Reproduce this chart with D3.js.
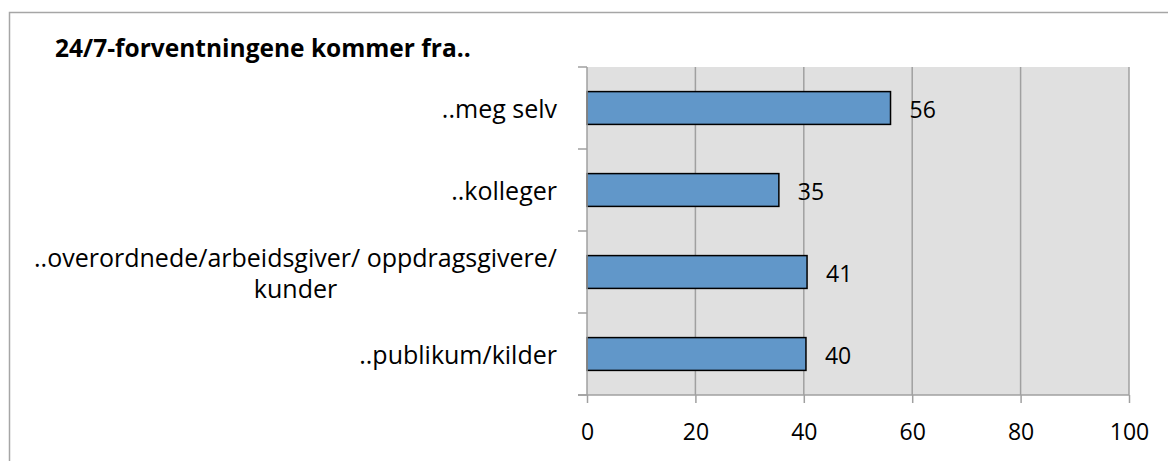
<!DOCTYPE html>
<html>
<head>
<meta charset="utf-8">
<script src="https://cdn.jsdelivr.net/npm/d3@7"></script>
<style>
  body { margin: 0; background: #fff; }
  svg text { font-family: "Open Sans", sans-serif; fill: #000; }
</style>
</head>
<body>
<script>
// data
var categories = ['..meg selv', '..kolleger', '..overordnede/arbeidsgiver/ oppdragsgivere/ kunder', '..publikum/kilder'];
var values = [56, 35.4, 40.6, 40.4];
var valueLabels = ['56', '35', '41', '40'];
var xTicks = [0, 20, 40, 60, 80, 100];
var title = '24/7-forventningene kommer fra..';

var W = 1168, H = 461;
var plot = {left: 587, top: 67, right: 1129, bottom: 395};

var svg = d3.select('body').append('svg')
  .attr('width', W)
  .attr('height', H);

// outer chart frame (right / bottom edges are outside the window)
svg.append('rect')
  .attr('x', 9.5).attr('y', 12.5)
  .attr('width', 1200).attr('height', 500)
  .attr('fill', '#fff')
  .attr('stroke', '#a6a6a6')
  .attr('stroke-width', 1.5);

var x = d3.scaleLinear().domain([0, 100]).range([plot.left, plot.right]);
var y = d3.scaleBand().domain(categories).range([plot.top, plot.bottom])
  .paddingInner(0.6).paddingOuter(0.3);

// plot background
svg.append('rect')
  .attr('x', plot.left).attr('y', plot.top)
  .attr('width', plot.right - plot.left)
  .attr('height', plot.bottom - plot.top)
  .attr('fill', '#e0e0e0');

// vertical gridlines
svg.append('g').selectAll('line').data(xTicks.slice(1)).enter().append('line')
  .attr('x1', function(d){ return x(d); })
  .attr('x2', function(d){ return x(d); })
  .attr('y1', plot.top).attr('y2', plot.bottom)
  .attr('stroke', '#a0a0a0')
  .attr('stroke-width', 1.5);

// bars
svg.append('g').selectAll('rect').data(values).enter().append('rect')
  .attr('x', x(0))
  .attr('y', function(d, i){ return y(categories[i]); })
  .attr('width', function(d){ return x(d) - x(0); })
  .attr('height', y.bandwidth())
  .attr('fill', '#6197c9')
  .attr('stroke', '#000')
  .attr('stroke-width', 1.5);

// value labels
svg.append('g').selectAll('text').data(values).enter().append('text')
  .attr('x', function(d){ return x(d) + 19; })
  .attr('y', function(d, i){ return y(categories[i]) + y.bandwidth() / 2; })
  .attr('dy', 10)
  .style('font-size', '23px')
  .text(function(d, i){ return valueLabels[i]; });

// y axis (ticks on band boundaries)
var yAxis = svg.append('g');
yAxis.append('line')
  .attr('x1', plot.left).attr('x2', plot.left)
  .attr('y1', plot.top).attr('y2', plot.bottom)
  .attr('stroke', '#a0a0a0').attr('stroke-width', 1.5);
var bounds = categories.map(function(c){ return y(c) - y.step() * y.paddingInner() / 2; });
bounds.push(plot.bottom);
yAxis.selectAll('line.tick').data(bounds).enter().append('line')
  .attr('class', 'tick')
  .attr('x1', plot.left - 9).attr('x2', plot.left)
  .attr('y1', function(d){ return d; })
  .attr('y2', function(d){ return d; })
  .attr('stroke', '#a0a0a0').attr('stroke-width', 1.5);

// x axis
var xAxis = d3.axisBottom(x).tickValues(xTicks).tickSize(8).tickPadding(21);
var gx = svg.append('g')
  .attr('transform', 'translate(0,' + plot.bottom + ')')
  .call(xAxis);
gx.select('.domain').remove();
gx.append('line')
  .attr('x1', plot.left - 9).attr('x2', plot.right)
  .attr('stroke', '#a0a0a0').attr('stroke-width', 1.5);
gx.selectAll('.tick line').attr('stroke', '#a0a0a0').attr('stroke-width', 1.5);
gx.selectAll('.tick text')
  .style('font-size', '23px')
  .style('font-family', '"Open Sans", sans-serif')
  .attr('fill', '#000');

// category labels, wrapped to fit left of the axis; wrapped lines are centred
var labelRight = 557, maxW = 545, lineH = 31;
var cats = svg.append('g').selectAll('text').data(categories).enter().append('text')
  .style('font-size', '25px');

cats.each(function(d){
  var t = d3.select(this);
  var words = d.split(' ');
  var lines = [], cur = [];
  var probe = t.append('tspan');
  var widest = 0;
  words.forEach(function(w){
    var test = cur.concat([w]).join(' ');
    probe.text(test);
    if (probe.node().getComputedTextLength() > maxW && cur.length) {
      lines.push(cur.join(' '));
      cur = [w];
    } else {
      cur.push(w);
    }
  });
  lines.push(cur.join(' '));
  lines.forEach(function(l){
    probe.text(l);
    widest = Math.max(widest, probe.node().getComputedTextLength());
  });
  probe.remove();
  var cy = y(d) + y.bandwidth() / 2;
  var cx = labelRight - widest / 2;
  t.attr('text-anchor', lines.length > 1 ? 'middle' : 'end');
  lines.forEach(function(l, i){
    t.append('tspan')
      .attr('x', lines.length > 1 ? cx : labelRight)
      .attr('y', cy + (i - (lines.length - 1) / 2) * lineH)
      .attr('dy', 10)
      .text(l);
  });
});

// title
svg.append('text')
  .attr('x', 55).attr('y', 57)
  .style('font-size', '24.5px')
  .style('font-weight', 'bold')
  .text(title);
</script>
</body>
</html>
